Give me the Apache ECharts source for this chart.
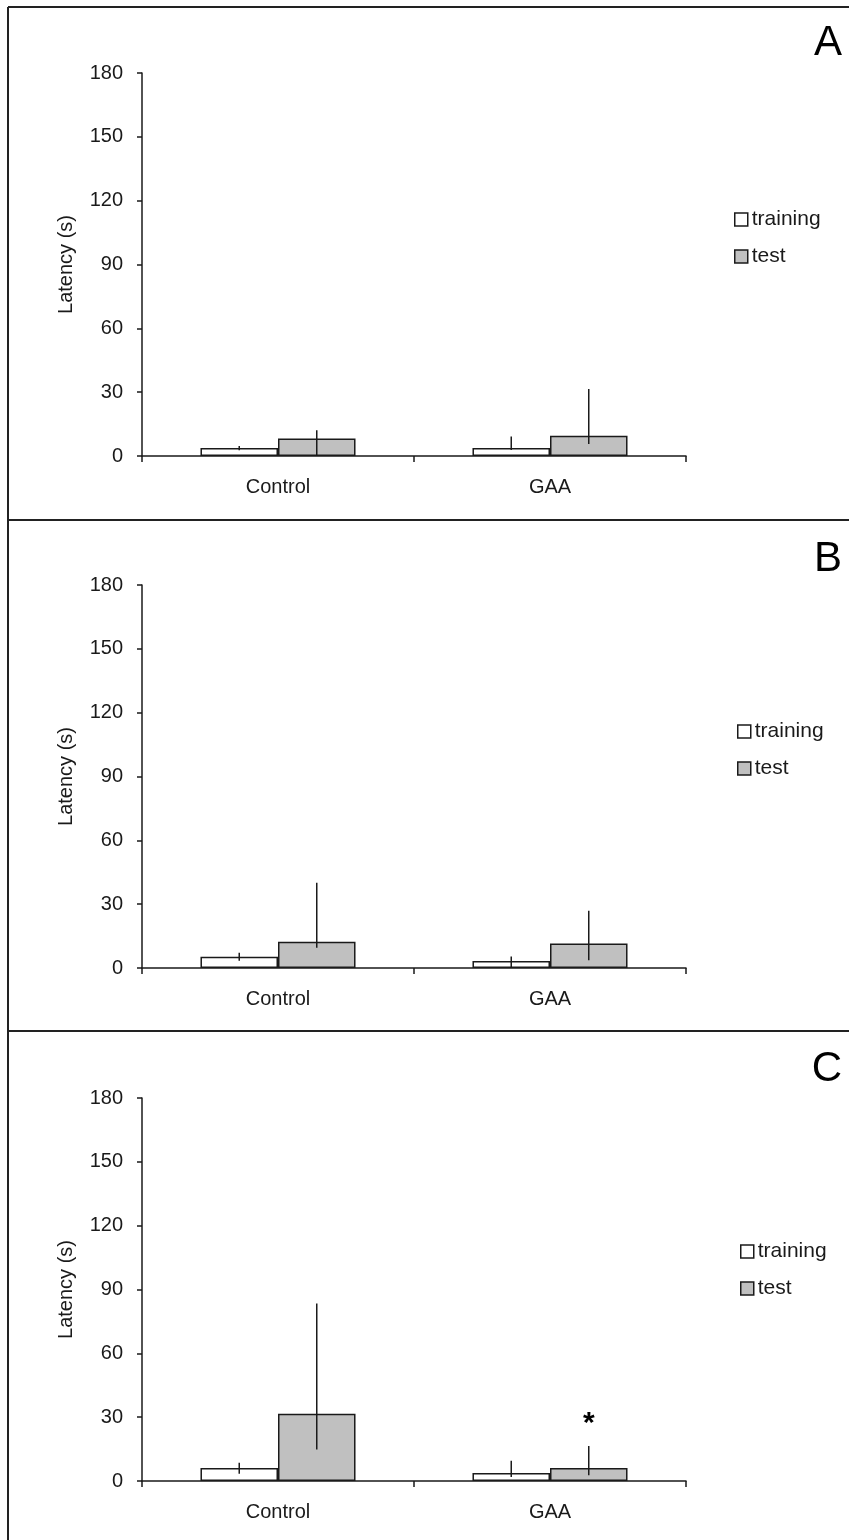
<!DOCTYPE html>
<html>
<head>
<meta charset="utf-8">
<title>Latency – training vs test</title>
<script src="https://cdn.jsdelivr.net/npm/echarts@6/dist/echarts.min.js"></script>
<style>
  html, body { margin: 0; padding: 0; background: #fff; }
  #chart { width: 849px; height: 1540px; }
</style>
</head>
<body>
<div id="chart"></div>
<script>
// Groups on the x axis and panel letters
const categories = ['Control', 'GAA'];
const panelLetters = ['A', 'B', 'C'];

// Mean latency (s) per panel, per group
const trainingMean = [[3.8, 3.8], [5.3, 3.3], [6.1, 3.8]];
const testMean = [[8.2, 9.5], [12.3, 11.5], [31.6, 6.1]];

// Error bar extents (lower and upper ends, s)
const trainingLow = [[2.7, 2.8], [3.4, 0], [3.4, 1.9]];
const trainingHigh = [[4.7, 9.2], [7.2, 5.4], [8.6, 9.5]];
const testLow = [[0, 5.6], [9.5, 3.6], [14.8, 2.7]];
const testHigh = [[12.1, 31.5], [40.1, 26.9], [83.4, 16.4]];

// Significance marker above the GAA test bar in panel C (null = none)
const testStar = [[null, null], [null, null], [null, 26.9]];

// Y axis scale
const yMin = 0, yMax = 180, yStep = 30;

const FONT = '"Liberation Sans", Arial, sans-serif';
const INK = '#1a1a1a';
const BAR_FRACTION = 0.285;  // bar width as share of a category band

const gridTops = [73, 585, 1098];
const gridHeight = 383;
const legendTops = [209, 721, 1241];
const legendLefts = [734, 737, 740];
const letterY = [40, 556, 1066];

const grids = [], xAxes = [], yAxes = [], legends = [], series = [], graphics = [];

function errorRenderer(sign) {
  return function (params, api) {
    const band = api.size([1, 0])[0];
    const bw = band * BAR_FRACTION;
    const x = api.coord([api.value(0), 0])[0] + sign * bw / 2;
    const y1 = api.coord([api.value(0), api.value(1)])[1];
    const y2 = api.coord([api.value(0), api.value(2)])[1];
    return {
      type: 'line',
      shape: { x1: x, y1: y1, x2: x, y2: y2 },
      style: { stroke: INK, lineWidth: 1.5 }
    };
  };
}

function starRenderer(params, api) {
  const band = api.size([1, 0])[0];
  const bw = band * BAR_FRACTION;
  const p = api.coord([api.value(0), api.value(1)]);
  return {
    type: 'text',
    x: p[0] + bw / 2,
    y: p[1],
    style: {
      text: '*',
      font: 'bold 30px ' + FONT,
      fill: '#000',
      align: 'center',
      verticalAlign: 'middle'
    }
  };
}

panelLetters.forEach(function (letter, i) {
  grids.push({ left: 142, right: 163, top: gridTops[i], height: gridHeight });

  xAxes.push({
    type: 'category',
    gridIndex: i,
    data: categories,
    axisLine: { lineStyle: { color: INK, width: 1.5 } },
    axisTick: { show: true, length: 6, lineStyle: { color: INK, width: 1.5 } },
    axisLabel: { color: INK, fontFamily: FONT, fontSize: 20, margin: 21 },
    splitLine: { show: false }
  });

  yAxes.push({
    type: 'value',
    gridIndex: i,
    min: yMin,
    max: yMax,
    interval: yStep,
    name: 'Latency (s)',
    nameLocation: 'middle',
    nameRotate: 90,
    nameGap: 66,
    nameTextStyle: { color: INK, fontFamily: FONT, fontSize: 20 },
    axisLine: { show: true, lineStyle: { color: INK, width: 1.5 } },
    axisTick: { show: true, length: 5, lineStyle: { color: INK, width: 1.5 } },
    axisLabel: { color: INK, fontFamily: FONT, fontSize: 20, margin: 19 },
    splitLine: { show: false }
  });

  legends.push({
    orient: 'vertical',
    left: legendLefts[i],
    top: legendTops[i],
    padding: 0,
    itemWidth: 13,
    itemHeight: 13,
    itemGap: 16,
    icon: 'rect',
    selectedMode: false,
    textStyle: { color: INK, fontFamily: FONT, fontSize: 21, lineHeight: 20, padding: [0, 0, 0, -1] },
    data: [
      { name: 'training', itemStyle: { color: '#ffffff', borderColor: INK, borderWidth: 1.5 } },
      { name: 'test', itemStyle: { color: '#c0c0c0', borderColor: INK, borderWidth: 1.5 } }
    ]
  });

  series.push({
    name: 'training',
    type: 'bar',
    xAxisIndex: i,
    yAxisIndex: i,
    data: trainingMean[i],
    barWidth: (BAR_FRACTION * 100) + '%',
    barGap: '0%',
    itemStyle: { color: '#ffffff', borderColor: INK, borderWidth: 1.5 },
    emphasis: { disabled: true },
    z: 2
  });
  series.push({
    name: 'test',
    type: 'bar',
    xAxisIndex: i,
    yAxisIndex: i,
    data: testMean[i],
    barWidth: (BAR_FRACTION * 100) + '%',
    barGap: '0%',
    itemStyle: { color: '#c0c0c0', borderColor: INK, borderWidth: 1.5 },
    emphasis: { disabled: true },
    z: 2
  });

  series.push({
    type: 'custom',
    xAxisIndex: i,
    yAxisIndex: i,
    renderItem: errorRenderer(-1),
    data: categories.map(function (c, k) { return [k, trainingLow[i][k], trainingHigh[i][k]]; }),
    silent: true,
    z: 5
  });
  series.push({
    type: 'custom',
    xAxisIndex: i,
    yAxisIndex: i,
    renderItem: errorRenderer(1),
    data: categories.map(function (c, k) { return [k, testLow[i][k], testHigh[i][k]]; }),
    silent: true,
    z: 5
  });

  const stars = [];
  testStar[i].forEach(function (v, k) { if (v !== null) stars.push([k, v]); });
  if (stars.length) {
    series.push({
      type: 'custom',
      xAxisIndex: i,
      yAxisIndex: i,
      renderItem: starRenderer,
      data: stars,
      silent: true,
      z: 6
    });
  }

  graphics.push({
    type: 'text',
    right: 7,
    top: letterY[i] - 18,
    style: { text: letter, font: '42px ' + FONT, fill: '#000' }
  });
});

// Panel frame lines
const frame = [
  [8, 7, 849, 7],
  [8, 7, 8, 1540],
  [8, 520, 849, 520],
  [8, 1031, 849, 1031]
];
frame.forEach(function (f) {
  graphics.push({
    type: 'line',
    shape: { x1: f[0], y1: f[1], x2: f[2], y2: f[3] },
    style: { stroke: '#222', lineWidth: 2 }
  });
});

const chart = echarts.init(document.getElementById('chart'), null, { renderer: 'canvas' });
chart.setOption({
  animation: false,
  backgroundColor: '#ffffff',
  grid: grids,
  xAxis: xAxes,
  yAxis: yAxes,
  legend: legends,
  series: series,
  graphic: graphics
});
</script>
</body>
</html>
